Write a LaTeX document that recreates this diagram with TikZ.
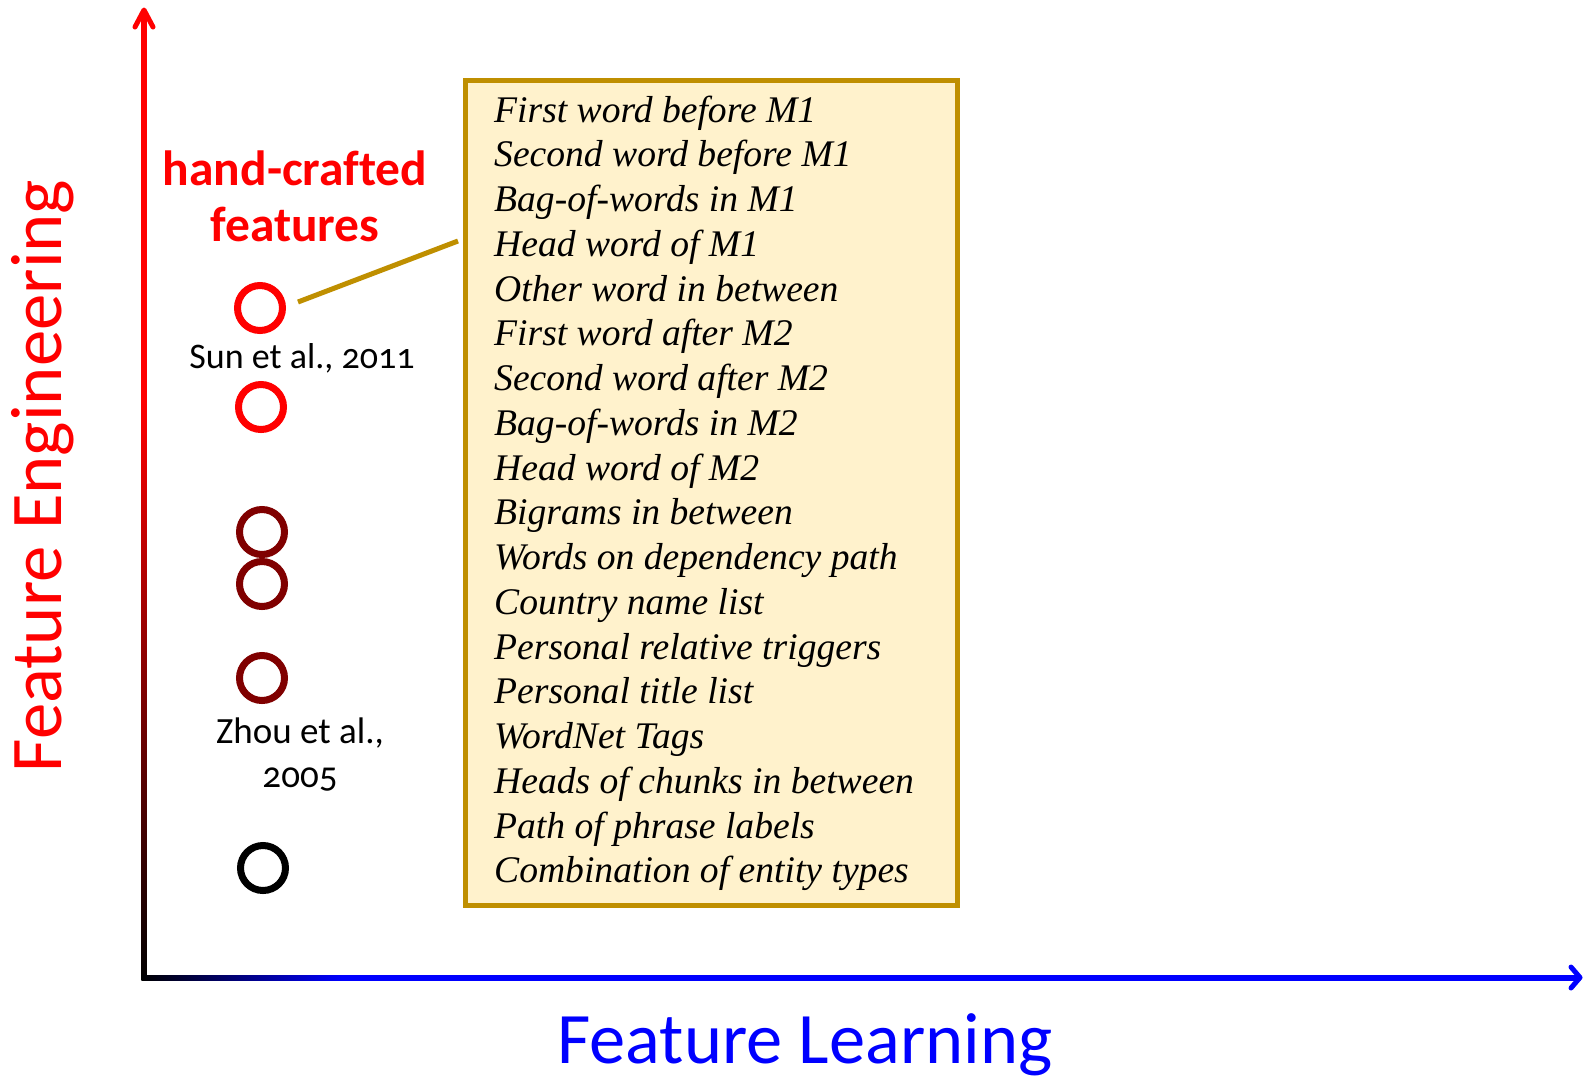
\documentclass[tikz,border=0pt]{standalone}
\usepackage{fontspec}
\setmainfont{Liberation Serif}
\newfontfamily\timesfont{Liberation Serif}
\newfontfamily\calfont{Carlito}[Numbers=OldStyle, Ligatures=NoCommon]
\definecolor{goldb}{RGB}{191,143,0}
\definecolor{goldf}{RGB}{255,242,204}
\definecolor{darkred}{RGB}{128,0,0}
\pgfdeclareverticalshading{vaxis}{100bp}{color(0bp)=(black); color(25bp)=(black); color(55bp)=(red); color(100bp)=(red)}
\pgfdeclarehorizontalshading{haxis}{100bp}{color(0bp)=(black); color(25bp)=(black); color(32bp)=(blue); color(100bp)=(blue)}
\tikzset{
  dot/.style={circle, draw, line width=7pt, minimum size=45pt, inner sep=0pt},
  feat/.style={anchor=base west, inner sep=0pt, font=\timesfont\fontsize{37.6}{44}\selectfont\itshape},
  cal/.style={inner sep=0pt, font=\calfont\fontsize{#1}{#1}\selectfont},
  calb/.style={inner sep=0pt, font=\calfont\fontsize{#1}{#1}\selectfont\bfseries},
  tip/.style={line width=5pt, line cap=round, line join=round},
  boxstyle/.style={draw=goldb, fill=goldf, line width=5pt, minimum width=491.5pt, minimum height=825pt, inner sep=0pt},
}
\begin{document}
\begin{tikzpicture}[x=1pt,y=-1pt]
\useasboundingbox (0,0) rectangle (1585,1080);
% axes
\shade[shading=vaxis] (141.5,10) rectangle (146.5,980);
\shade[shading=haxis] (141.5,975) rectangle (1580,980);
\draw[tip, red] (135,27) -- (144,10) -- (153,27);
\draw[tip, blue] (1571,967) -- (1580,977.5) -- (1571,988);
% axis labels
\node[cal=72.8, text=red, rotate=90, anchor=base] (ylab) at (61,476) {Feature Engineering};
\node[cal=72.5, text=blue, anchor=base] (xlab) at (805,1063) {Feature Learning};
% feature box
\node[boxstyle] (box) at (711.25,493) {};
\foreach \t [count=\i] in {First word before M1, Second word before M1, Bag-of-words in M1, Head word of M1, Other word in between, First word after M2, Second word after M2, Bag-of-words in M2, Head word of M2, Bigrams in between, Words on dependency path, Country name list, Personal relative triggers, Personal title list, WordNet Tags, Heads of chunks in between, Path of phrase labels, Combination of entity types}
  \node[feat] (l\i) at (494,{122+44.76*(\i-1)}) {\t};
% circles
\node[dot, draw=red] (c1) at (260,308) {};
\node[dot, draw=red] (c2) at (261,407) {};
\node[dot, draw=darkred] (c3) at (262,532) {};
\node[dot, draw=darkred] (c4) at (262,584) {};
\node[dot, draw=darkred] (c5) at (262,678) {};
\node[dot, draw=black] (c6) at (263,868) {};
% labels
\node[calb=49.5, text=red, anchor=base] (hc1) at (295,185) {hand-crafted};
\node[calb=49.5, text=red, anchor=base] (hc2) at (295,241) {features};
\node[cal=36, anchor=base] (sun) at (302,368) {Sun et al., 2011};
\node[cal=37, anchor=base] (zhou1) at (300,743) {Zhou et al.,};
\node[cal=37, anchor=base] (zhou2) at (300,787) {2005};
% connector
\coordinate (ls) at (298,302);
\coordinate (le) at (458,241);
\draw[goldb, line width=5pt] (ls) -- (le);
\end{tikzpicture}
\end{document}
